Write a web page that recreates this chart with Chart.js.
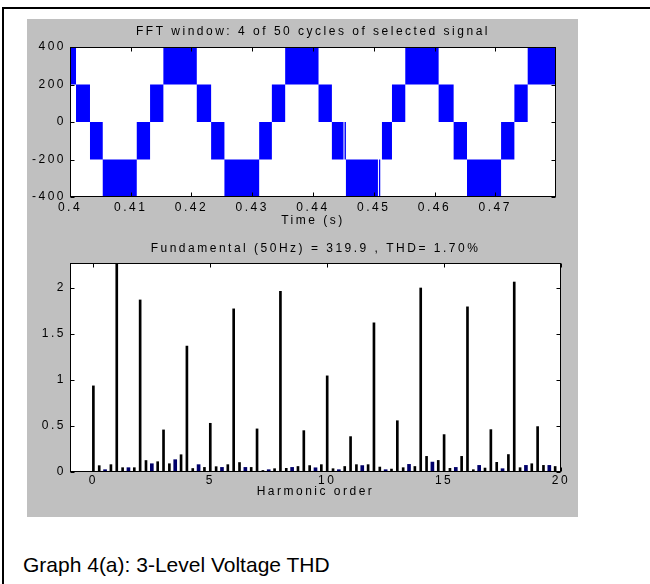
<!DOCTYPE html>
<html>
<head>
<meta charset="utf-8">
<title>Graph 4(a)</title>
<script src="https://cdn.jsdelivr.net/npm/chart.js@4.4.1/dist/chart.umd.min.js"></script>
<style>
  body {
    margin: 0;
    width: 650px;
    height: 584px;
    overflow: hidden;
    position: relative;
    background: #ffffff;
    font-family: "Liberation Sans", Arial, sans-serif;
  }
  .frame {
    position: absolute;
    left: 2px;
    top: 7px;
    width: 700px;
    height: 700px;
    border-top: 2px solid #000;
    border-left: 2px solid #000;
  }
  .figure {
    position: absolute;
    left: 27px;
    top: 19px;
    width: 551px;
    height: 498px;
    background: #c0c0c0;
  }
  .figure canvas {
    position: absolute;
    left: 0;
  }
  #chartWave { top: 0; }
  #chartSpectrum { top: 212px; }
  .caption {
    position: absolute;
    left: 23px;
    top: 552px;
    font-size: 21px;
    line-height: 26px;
    color: #000;
    white-space: nowrap;
  }
</style>
</head>
<body>
<div class="frame"></div>
<div class="figure">
  <canvas id="chartWave" width="551" height="210"></canvas>
  <canvas id="chartSpectrum" width="551" height="286"></canvas>
</div>
<div class="caption">Graph 4(a): 3-Level Voltage THD</div>

<script>
// ticks
const timeTicks = [0.40, 0.41, 0.42, 0.43, 0.44, 0.45, 0.46, 0.47]
const timeTickLabels = ['0.4', '0.41', '0.42', '0.43', '0.44', '0.45', '0.46', '0.47']
const voltageTicks = [-400, -200, 0, 200, 400]
const voltageTickLabels = ['-400', '-200', '0', '200', '400']
const orderTicks = [0, 5, 10, 15, 20]
const orderTickLabels = ['0', '5', '10', '15', '20']
const magTicks = [0, 0.5, 1, 1.5, 2]
const magTickLabels = ['0', '0.5', '1', '1.5', '2']

// selected signal: each segment starts at switchTime[i] and switches between bandLow[i] and bandHigh[i]
const switchTime = [
  0.4, 0.40099, 0.40329, 0.40539, 0.41099, 0.41318, 0.41537,
  0.42087, 0.42323, 0.42542, 0.43114, 0.43323, 0.43542,
  0.44091, 0.44311, 0.44502, 0.44519, 0.44542, 0.45069, 0.45086, 0.45107, 0.45135,
  0.45300, 0.45519, 0.46068, 0.46315, 0.46535, 0.47096, 0.47315, 0.47534, 0.48
]
const bandHigh = [
  400, 200, 0, -200, 0, 200, 400,
  200, 0, -200, 0, 200, 400,
  200, 0, -200, 0, -200, -200, -200, -200, 0,
  200, 400, 200, 0, -200, 0, 200, 400, 400
]
const bandLow = [
  200, 0, -200, -400, -200, 0, 200,
  0, -200, -400, -200, 0, 200,
  0, -200, -200, -200, -400, -200, -400, -200, -200,
  0, 200, 0, -200, -400, -200, 0, 200, 200
]

// harmonic spectrum (% of fundamental), 12.5 Hz resolution
const harmonicOrder = [
  0, 0.25, 0.5, 0.75, 1, 1.25, 1.5, 1.75, 2, 2.25, 2.5, 2.75, 3, 3.25, 3.5, 3.75,
  4, 4.25, 4.5, 4.75, 5, 5.25, 5.5, 5.75, 6, 6.25, 6.5, 6.75, 7, 7.25, 7.5, 7.75,
  8, 8.25, 8.5, 8.75, 9, 9.25, 9.5, 9.75, 10, 10.25, 10.5, 10.75, 11, 11.25, 11.5, 11.75,
  12, 12.25, 12.5, 12.75, 13, 13.25, 13.5, 13.75, 14, 14.25, 14.5, 14.75, 15, 15.25, 15.5, 15.75,
  16, 16.25, 16.5, 16.75, 17, 17.25, 17.5, 17.75, 18, 18.25, 18.5, 18.75, 19, 19.25, 19.5, 19.75
]
const magnitude = [
  0.937, 0.069, 0.025, 0.08,   100, 0.047, 0.047, 0.047,
  1.872, 0.125, 0.09, 0.112,   0.458, 0.09, 0.134, 0.188,
  1.370, 0.038, 0.08, 0.05,    0.530, 0.058, 0.05, 0.08,
  1.775, 0.103, 0.05, 0.05,    0.469, 0.017, 0.025, 0.036,
  1.966, 0.04, 0.05, 0.06,     0.450, 0.07, 0.046, 0.08,
  1.046, 0.036, 0.025, 0.06,   0.385, 0.08, 0.07, 0.08,
  1.623, 0.054, 0.025, 0.032,  0.558, 0.047, 0.083, 0.06,
  2.002, 0.17, 0.108, 0.126,   0.407, 0.04, 0.05, 0.17,
  1.797, 0.025, 0.072, 0.043,  0.461, 0.105, 0.036, 0.19,
  2.067, 0.047, 0.072, 0.09,   0.494, 0.072, 0.072, 0.06
]

Chart.defaults.font.family = '"Liberation Sans", Arial, sans-serif'
Chart.defaults.font.size = 12
Chart.defaults.font.lineHeight = 1
Chart.defaults.color = '#000000'
Chart.defaults.animation = false

// old matlab text is spaced out
const letterSpacingPlugin = {
  id: 'letterSpacing',
  beforeUpdate: (chart) => { chart.ctx.letterSpacing = '2.5px' },
  beforeDraw: (chart) => { chart.ctx.letterSpacing = '2.5px' }
}

// white axes, black box and inward ticks on all four sides
const matlabAxesPlugin = {
  id: 'matlabAxes',
  beforeDraw: (chart) => {
    const { ctx, chartArea } = chart
    const { left, top, right, bottom } = chartArea
    ctx.save()
    ctx.fillStyle = '#ffffff'
    ctx.fillRect(left, top, right - left, bottom - top)
    ctx.restore()
  },
  afterDraw: (chart) => {
    const { ctx, chartArea, scales } = chart
    const left = Math.round(chartArea.left) + 0.5
    const right = Math.round(chartArea.right) - 0.5
    const top = Math.round(chartArea.top) + 0.5
    const bottom = Math.round(chartArea.bottom) - 0.5
    const len = 4

    ctx.save()
    ctx.strokeStyle = '#000000'
    ctx.lineWidth = 1
    ctx.beginPath()
    scales.x.ticks.forEach(tick => {
      const x = Math.round(scales.x.getPixelForValue(tick.value)) + 0.5
      ctx.moveTo(x, bottom)
      ctx.lineTo(x, bottom - len)
      ctx.moveTo(x, top)
      ctx.lineTo(x, top + len)
    })
    scales.y.ticks.forEach(tick => {
      const y = Math.round(scales.y.getPixelForValue(tick.value)) + 0.5
      ctx.moveTo(left, y)
      ctx.lineTo(left + len, y)
      ctx.moveTo(right, y)
      ctx.lineTo(right - len, y)
    })
    ctx.stroke()
    ctx.strokeRect(left, top, right - left, bottom - top)
    ctx.restore()
  }
}

function fixedTicks (values) {
  return (scale) => {
    scale.ticks = values.map(v => ({ value: v }))
  }
}

new Chart(document.getElementById('chartWave'), {
  type: 'line',
  data: {
    datasets: [
      {
        label: 'high',
        data: switchTime.map((t, i) => ({ x: t, y: bandHigh[i] })),
        stepped: true,
        borderWidth: 0,
        pointRadius: 0,
        fill: false
      },
      {
        label: 'low',
        data: switchTime.map((t, i) => ({ x: t, y: bandLow[i] })),
        stepped: true,
        borderWidth: 0,
        pointRadius: 0,
        backgroundColor: '#0000ff',
        fill: '-1'
      }
    ]
  },
  options: {
    responsive: false,
    layout: { padding: { left: 0, right: 22, top: 0, bottom: 2 } },
    plugins: {
      legend: { display: false },
      tooltip: { enabled: false },
      title: {
        display: true,
        fullSize: false,
        text: 'FFT window: 4 of 50 cycles of selected signal',
        font: { size: 12, weight: 'normal' },
        padding: { top: 7, bottom: 9 }
      }
    },
    scales: {
      x: {
        type: 'linear',
        min: 0.4,
        max: 0.48,
        grid: { display: false, drawTicks: false },
        border: { display: false },
        afterBuildTicks: fixedTicks(timeTicks),
        afterFit: (scale) => { scale.height = 30 },
        ticks: {
          autoSkip: false,
          maxRotation: 0,
          padding: 5,
          callback: (value, index) => timeTickLabels[index]
        },
        title: { display: true, text: 'Time (s)', padding: { top: 0, bottom: 0 } }
      },
      y: {
        min: -400,
        max: 400,
        grid: { display: false, drawTicks: false },
        border: { display: false },
        afterBuildTicks: fixedTicks(voltageTicks),
        afterFit: (scale) => { scale.width = 43 },
        ticks: {
          autoSkip: false,
          padding: 4,
          callback: (value, index) => voltageTickLabels[index]
        }
      }
    }
  },
  plugins: [letterSpacingPlugin, matlabAxesPlugin]
})

new Chart(document.getElementById('chartSpectrum'), {
  type: 'bar',
  data: {
    datasets: [
      {
        label: 'harmonics',
        data: harmonicOrder
          .map((h, i) => ({ x: h, y: magnitude[i] }))
          .filter(p => p.x % 1 !== 0.5),
        backgroundColor: '#000000',
        borderWidth: 0,
        barThickness: 2,
        grouped: false
      },
      {
        label: 'interharmonics',
        data: harmonicOrder
          .map((h, i) => ({ x: h, y: magnitude[i] }))
          .filter(p => p.x % 1 === 0.5),
        backgroundColor: '#00006a',
        borderWidth: 0,
        barThickness: 3,
        grouped: false
      }
    ]
  },
  options: {
    responsive: false,
    layout: { padding: { left: 0, right: 17, top: 0, bottom: 19 } },
    plugins: {
      legend: { display: false },
      tooltip: { enabled: false },
      title: {
        display: true,
        fullSize: false,
        text: 'Fundamental (50Hz) = 319.9 , THD= 1.70%',
        font: { size: 12, weight: 'normal' },
        padding: { top: 11.8, bottom: 8.2 }
      }
    },
    scales: {
      x: {
        type: 'linear',
        min: -1,
        max: 20,
        offset: false,
        grid: { display: false, drawTicks: false },
        border: { display: false },
        afterBuildTicks: fixedTicks(orderTicks),
        afterFit: (scale) => { scale.height = 26 },
        ticks: {
          autoSkip: false,
          maxRotation: 0,
          padding: 3,
          callback: (value, index) => orderTickLabels[index]
        },
        title: { display: true, text: 'Harmonic order', padding: { top: 0, bottom: 0 } }
      },
      y: {
        min: 0,
        max: 2.274,
        grid: { display: false, drawTicks: false },
        border: { display: false },
        afterBuildTicks: fixedTicks(magTicks),
        afterFit: (scale) => { scale.width = 43 },
        ticks: {
          autoSkip: false,
          padding: 4,
          callback: (value, index) => magTickLabels[index]
        }
      }
    }
  },
  plugins: [letterSpacingPlugin, matlabAxesPlugin]
})
</script>
</body>
</html>
